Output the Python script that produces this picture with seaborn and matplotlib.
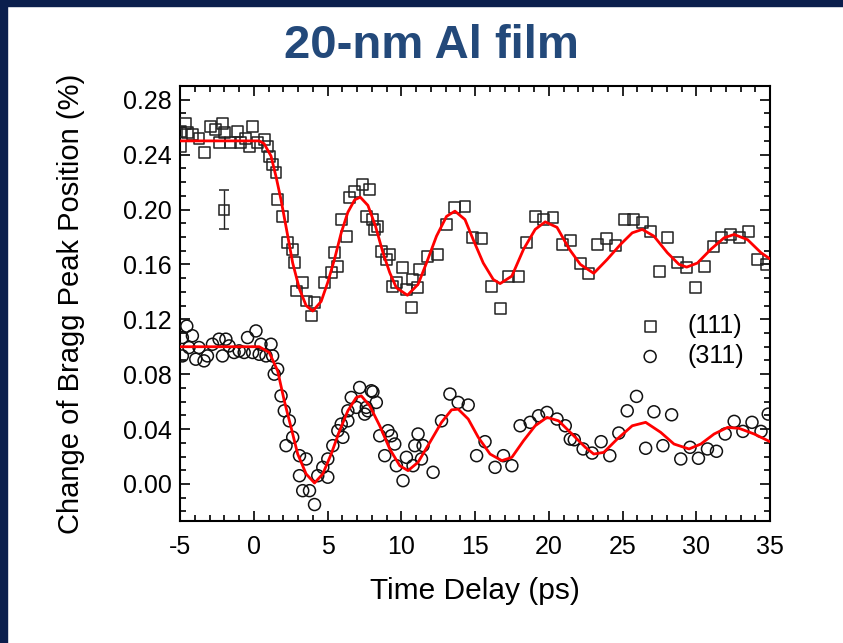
import matplotlib
matplotlib.use("Agg")
import matplotlib.pyplot as plt
from matplotlib.patches import Rectangle
from matplotlib.ticker import MultipleLocator, FormatStrFormatter
import seaborn as sns
import pandas as pd

# ---------------- data ----------------
t_111 = [-4.95, -4.95, -4.61, -4.52, -4.18, -3.71, -3.37, -2.91, -2.57, -2.35,
         -2.14, -2.00, -1.55, -1.12, -0.87, -0.53, -0.31, -0.10, 0.24, 0.71,
         0.92, 1.05, 1.26, 1.51, 1.60, 1.94, 2.28, 2.62, 2.76, 2.87,
         3.30, 3.55, 3.89, 4.12, 4.80, 5.25, 5.48, 5.68, 5.93, 6.27,
         6.50, 6.84, 7.38, 7.63, 7.86, 8.06, 8.20, 8.40, 8.65, 8.99,
         9.22, 9.42, 9.67, 10.10, 10.35, 10.69, 10.78, 11.12, 11.26, 11.80,
         12.48, 13.07, 13.64, 14.32, 14.86, 15.46, 16.14, 16.70, 17.24, 17.93,
         18.52, 19.08, 19.63, 20.29, 20.95, 21.50, 22.14, 22.69, 23.30, 23.91,
         24.52, 25.14, 25.73, 26.34, 26.90, 27.54, 28.08, 28.72, 29.35, 29.92,
         30.53, 31.17, 31.73, 32.35, 32.96, 33.52, 34.16, 34.73]
v_111 = [0.257, 0.246, 0.263, 0.256, 0.2545, 0.252, 0.2415, 0.2606, 0.258, 0.249,
         0.263, 0.256, 0.2485, 0.257, 0.2485, 0.252, 0.246, 0.2606, 0.249, 0.251,
         0.246, 0.2385, 0.2327, 0.2267, 0.207, 0.195, 0.176, 0.171, 0.1615, 0.1406,
         0.147, 0.1333, 0.1224, 0.1324, 0.147, 0.154, 0.1687, 0.1585, 0.1927, 0.1806,
         0.2087, 0.213, 0.218, 0.195, 0.2145, 0.1927, 0.1855, 0.1876, 0.1697, 0.1636,
         0.1673, 0.1442, 0.1467, 0.1578, 0.1418, 0.1285, 0.1491, 0.1433, 0.1564, 0.1658,
         0.1673, 0.1891, 0.2015, 0.2024, 0.1796, 0.1787, 0.1442, 0.128, 0.1515, 0.1515,
         0.1758, 0.1951, 0.1927, 0.194, 0.1745, 0.1777, 0.1607, 0.1535, 0.1745, 0.1789,
         0.1738, 0.1927, 0.1927, 0.1908, 0.1838, 0.1547, 0.1794, 0.1617, 0.1576, 0.1431,
         0.1588, 0.1733, 0.1794, 0.1818, 0.1794, 0.1838, 0.1636, 0.160]

t_311 = [-4.84, -4.84, -4.54, -4.39, -4.16, -3.93, -3.71, -3.37, -3.14, -2.80,
         -2.35, -2.12, -1.89, -1.67, -1.33, -0.99, -0.65, -0.42, -0.08, 0.15,
         0.37, 0.49, 0.83, 1.17, 1.28, 1.39, 1.62, 1.85, 2.07, 2.19,
         2.41, 2.64, 3.10, 3.10, 3.32, 3.55, 3.78, 4.12, 4.34, 4.68,
         5.02, 5.02, 5.36, 5.70, 5.93, 6.04, 6.38, 6.38, 6.61, 6.95,
         7.18, 7.52, 7.63, 7.74, 7.97, 8.08, 8.31, 8.54, 8.88, 9.10,
         9.33, 9.56, 9.67, 10.12, 10.35, 10.80, 10.92, 11.14, 11.37, 11.48,
         12.16, 12.73, 13.30, 13.86, 14.54, 15.11, 15.68, 16.36, 16.93, 17.50,
         18.06, 18.74, 19.31, 19.88, 20.56, 21.12, 21.46, 21.73, 22.33, 22.94,
         23.55, 24.14, 24.75, 25.32, 25.95, 26.57, 27.13, 27.74, 28.33, 28.95,
         29.58, 30.15, 30.76, 31.37, 31.96, 32.57, 33.16, 33.78, 34.39, 34.88]
v_311 = [0.1067, 0.0933, 0.115, 0.0994, 0.108, 0.0909, 0.0994, 0.0897, 0.0933, 0.1018,
         0.1055, 0.0933, 0.1055, 0.1006, 0.0958, 0.097, 0.0958, 0.1067, 0.0958, 0.1115,
         0.0945, 0.1018, 0.0933, 0.1018, 0.0933, 0.080, 0.0836, 0.0642, 0.0533, 0.0279,
         0.046, 0.034, 0.0206, 0.006, -0.0049, 0.0182, -0.0049, -0.015, 0.006, 0.0121,
         0.0049, 0.0182, 0.0279, 0.0388, 0.0436, 0.034, 0.046, 0.0533, 0.063, 0.0558,
         0.0703, 0.0509, 0.0558, 0.0533, 0.0679, 0.0671, 0.0594, 0.0351, 0.0206, 0.0388,
         0.0351, 0.0291, 0.0133, 0.0024, 0.0194, 0.0133, 0.0279, 0.0364, 0.0182, 0.0279,
         0.0085, 0.046, 0.0655, 0.0594, 0.0575, 0.0206, 0.0308, 0.0121, 0.0206, 0.0133,
         0.0424, 0.0449, 0.0497, 0.0521, 0.0473, 0.0424, 0.0327, 0.0322, 0.0255, 0.0225,
         0.0308, 0.0206, 0.0371, 0.0533, 0.0638, 0.026, 0.0526, 0.0279, 0.0504, 0.0182,
         0.0267, 0.0187, 0.0255, 0.0238, 0.0364, 0.0456, 0.0383, 0.0449, 0.0383, 0.0509]

fit_t_111 = [-5.0, 0.37, 0.70, 1.17, 1.51, 1.85, 2.30, 2.64, 3.10, 3.55,
             4.00, 4.57, 5.02, 5.48, 5.93, 6.38, 6.84, 7.22, 7.74, 8.25,
             8.76, 9.22, 9.67, 10.42, 11.14, 11.71, 12.39, 13.07, 13.64, 14.32,
             14.88, 15.56, 16.24, 16.70, 17.50, 18.29, 19.08, 19.76, 20.56, 21.40,
             22.14, 23.05, 23.96, 24.86, 25.66, 26.34, 27.13, 28.04, 28.83, 29.35,
             30.08, 30.99, 31.89, 32.57, 33.48, 34.39, 35.0]
fit_v_111 = [0.250, 0.250, 0.248, 0.239, 0.224, 0.207, 0.181, 0.161, 0.142, 0.130,
             0.126, 0.133, 0.147, 0.164, 0.183, 0.198, 0.207, 0.209, 0.203, 0.188,
             0.1685, 0.154, 0.143, 0.1375, 0.1455, 0.161, 0.1806, 0.195, 0.1988, 0.1927,
             0.178, 0.161, 0.149, 0.146, 0.1515, 0.171, 0.1855, 0.191, 0.187, 0.171,
             0.160, 0.1535, 0.1636, 0.1745, 0.183, 0.1855, 0.1806, 0.1685, 0.160, 0.158,
             0.161, 0.171, 0.1794, 0.1818, 0.178, 0.1685, 0.164]

fit_t_311 = [-5.0, 0.37, 1.05, 1.62, 2.07, 2.53, 2.98, 3.55, 4.12, 4.68,
             5.25, 5.82, 6.38, 6.95, 7.29, 7.86, 8.54, 9.22, 9.90, 10.46,
             11.14, 11.94, 12.73, 13.41, 13.86, 14.54, 15.22, 16.02, 16.82, 17.50,
             18.29, 19.08, 19.88, 20.67, 21.46, 22.48, 23.05, 23.73, 24.64, 25.66,
             26.57, 27.59, 28.49, 29.51, 30.31, 31.21, 32.12, 32.91, 33.93, 35.0]
fit_v_311 = [0.100, 0.100, 0.0958, 0.0824, 0.0606, 0.0412, 0.0218, 0.0073, 0.0007, 0.0073,
             0.0218, 0.0388, 0.0533, 0.063, 0.0642, 0.057, 0.0424, 0.0255, 0.0133, 0.0097,
             0.0158, 0.0303, 0.0449, 0.054, 0.0545, 0.0473, 0.034, 0.0218, 0.017, 0.0194,
             0.0315, 0.0424, 0.0485, 0.046, 0.0376, 0.0267, 0.0218, 0.023, 0.0327, 0.0424,
             0.0449, 0.0376, 0.0291, 0.0255, 0.0291, 0.0364, 0.0412, 0.0405, 0.0364, 0.0308]

errbar_t = [-2.0]
errbar_v = [0.200]
errbar_e = [0.0145]

series_labels = ["(111)", "(311)"]
title_text = "20-nm Al film"
x_label = "Time Delay (ps)"
y_label = "Change of Bragg Peak Position (%)"

# ---------------- style ----------------
sns.set_style("ticks")
plt.rcParams["font.family"] = ["Liberation Sans", "DejaVu Sans"]
plt.rcParams["axes.unicode_minus"] = False
plt.rcParams["text.color"] = "black"
plt.rcParams["axes.labelcolor"] = "black"

fig = plt.figure(figsize=(8.43, 6.43), dpi=100)
ax = fig.add_axes([180 / 843, 1 - 521 / 643, 590 / 843, 435 / 643])

df111 = pd.DataFrame({"t": t_111, "v": v_111})
df311 = pd.DataFrame({"t": t_311, "v": v_311})
fit111 = pd.DataFrame({"t": fit_t_111, "v": fit_v_111})
fit311 = pd.DataFrame({"t": fit_t_311, "v": fit_v_311})

sns.scatterplot(data=df111, x="t", y="v", ax=ax, marker="s", s=62,
                facecolors="none", edgecolor="#222222", linewidth=1.1,
                label=series_labels[0], zorder=3)
sns.scatterplot(data=df311, x="t", y="v", ax=ax, marker="o", s=74,
                facecolors="none", edgecolor="#111111", linewidth=1.1,
                label=series_labels[1], zorder=3)
sns.lineplot(data=fit111, x="t", y="v", ax=ax, color="#ff0000", lw=2.0,
             sort=False, estimator=None, legend=False, zorder=4)
sns.lineplot(data=fit311, x="t", y="v", ax=ax, color="#ff0000", lw=2.0,
             sort=False, estimator=None, legend=False, zorder=4)

ax.errorbar(errbar_t, errbar_v, yerr=errbar_e, fmt="s", ms=7.9,
            mfc="none", mec="#222222", mew=1.1, ecolor="#222222",
            elinewidth=1.0, capsize=3.5, capthick=1.0, zorder=3)

ax.set_xlim(-5, 35)
ax.set_ylim(-0.027, 0.290)
ax.xaxis.set_major_locator(MultipleLocator(5))
ax.xaxis.set_minor_locator(MultipleLocator(1))
ax.yaxis.set_major_locator(MultipleLocator(0.04))
ax.yaxis.set_minor_locator(MultipleLocator(0.01))
ax.yaxis.set_major_formatter(FormatStrFormatter("%.2f"))
ax.xaxis.set_major_formatter(FormatStrFormatter("%d"))

ax.tick_params(which="both", direction="in", top=True, right=True,
               colors="black", width=1.2)
ax.tick_params(which="major", length=7, labelsize=18)
ax.tick_params(axis="x", which="major", pad=10)
ax.tick_params(axis="y", which="major", pad=6)
ax.tick_params(which="minor", length=4)
for s in ax.spines.values():
    s.set_linewidth(1.5)
    s.set_color("black")

ax.set_xlabel(x_label, fontsize=21.5, labelpad=13, color="black")
ax.set_ylabel(y_label, fontsize=21, labelpad=27, color="black")

fig.text(431 / 843, 1 - 46 / 643, title_text, ha="center", va="center",
         fontsize=34, fontweight="bold", color="#23497a")

leg = ax.legend(loc="center", bbox_to_anchor=(0.866, 0.414), frameon=False,
                fontsize=18, handlelength=1.0, handletextpad=1.0,
                labelspacing=0.25)

# dark frame around the slide
fig.patches.append(Rectangle((0, 1 - 6 / 643), 1, 6 / 643,
                             transform=fig.transFigure, color="#0b1f4d", zorder=10))
fig.patches.append(Rectangle((0, 0), 7 / 843, 1,
                             transform=fig.transFigure, color="#0b1f4d", zorder=10))

fig.savefig("out.png", dpi=100)
